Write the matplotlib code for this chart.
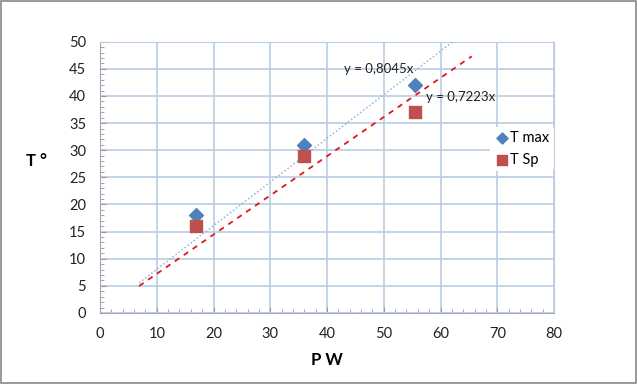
import numpy as np
import matplotlib
matplotlib.use("Agg")
import matplotlib.pyplot as plt
from matplotlib.patches import Rectangle
from matplotlib.ticker import MultipleLocator

plt.rcParams['font.family'] = ['Lato', 'DejaVu Sans']

# data
power = [17, 36, 55.5]
t_max = [18, 31, 42]
t_sp = [16, 29, 37]
trend_range = [6.9, 65.5]   # trendline forecast extent

fig = plt.figure(figsize=(6.37, 3.84), dpi=100)
ax = fig.add_axes([100 / 637, 1 - 313 / 384, 454 / 637, (313 - 41.7) / 384])

grid_c = '#b9cde5'

# trendlines through origin (least squares)
x = np.array(power)
k_max = np.sum(x * np.array(t_max)) / np.sum(x * x)
k_sp = np.sum(x * np.array(t_sp)) / np.sum(x * x)
xt = np.array(trend_range)
ax.plot(xt, k_max * xt, color='#95b3d7', lw=1.1, ls=(0, (1, 1.5)), zorder=3)
ax.plot(xt, k_sp * xt, color='#e3141b', lw=1.3, ls=(0, (3, 3)), zorder=3)

ax.scatter(power, t_max, marker='D', s=50, color='#4f81bd', label='T max', zorder=4)
ax.scatter(power, t_sp, marker='s', s=85, color='#c0504d', label='T Sp', zorder=4)

ax.text(43, 44.2, ('y = %.4fx' % k_max).replace('.', ','), fontsize=9.5, color='#222222')
ax.text(57.4, 39, ('y = %.4fx' % k_sp).replace('.', ','), fontsize=9.5, color='#222222')

ax.set_xlim(0, 80)
ax.set_ylim(0, 50)
ax.xaxis.set_major_locator(MultipleLocator(10))
ax.xaxis.set_minor_locator(MultipleLocator(2))
ax.yaxis.set_major_locator(MultipleLocator(5))
ax.yaxis.set_minor_locator(MultipleLocator(1))
ax.grid(True, which='major', color=grid_c, lw=1.2)
ax.set_axisbelow(True)
ax.tick_params(which='both', direction='in', color='#999999', labelsize=10.5,
               labelcolor='#222222')
ax.tick_params(which='major', length=4)
ax.tick_params(which='minor', length=3)
ax.tick_params(axis='x', pad=10)
ax.tick_params(axis='y', pad=10)
for side in ['top', 'right']:
    ax.spines[side].set_color(grid_c)
for side in ['left', 'bottom']:
    ax.spines[side].set_color('#a0a8b8')

ax.set_xlabel('P W', fontsize=12, fontweight='bold', labelpad=8)
ax.set_ylabel('T °', fontsize=12, fontweight='bold', rotation=0, va='center', ha='center')
ax.yaxis.set_label_coords(-0.139, 0.56)

leg = ax.legend(loc='upper left', bbox_to_anchor=(0.843, 0.713), frameon=True,
                fontsize=10.5, handletextpad=0.1, handlelength=1.0, borderpad=0.3,
                labelspacing=0.5, markerscale=0.8)
leg.get_frame().set_edgecolor('none')
leg.get_frame().set_facecolor('white')
leg.get_frame().set_alpha(1)

fig.patches.append(Rectangle((0.002, 0.002), 0.996, 0.995, transform=fig.transFigure,
                             fill=False, edgecolor='#888888', lw=1.2))

fig.savefig('out.png', dpi=100)
